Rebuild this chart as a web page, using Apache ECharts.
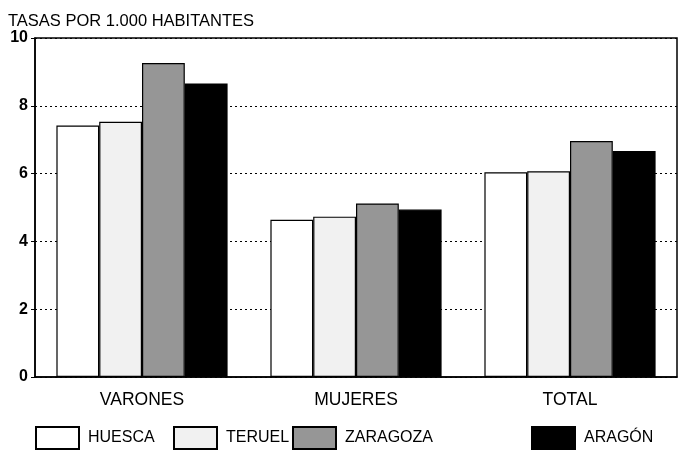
<!DOCTYPE html>
<html>
<head>
<meta charset="utf-8">
<script src="https://cdn.jsdelivr.net/npm/echarts@6/dist/echarts.min.js"></script>
<style>html,body{margin:0;padding:0;background:#fff;}#c{width:682px;height:452px;}</style>
</head>
<body>
<div id="c"></div>
<script>
const categories = ['VARONES', 'MUJERES', 'TOTAL'];
const seriesNames = ['HUESCA', 'TERUEL', 'ZARAGOZA', 'ARAGÓN'];
const huesca = [7.42, 4.64, 6.04];
const teruel = [7.53, 4.73, 6.07];
const zaragoza = [9.26, 5.12, 6.96];
const aragon = [8.66, 4.94, 6.67];
const yTicks = [0, 2, 4, 6, 8, 10];

const fills = ['#ffffff', '#f1f1f1', '#969696', '#000000'];
const values = [huesca, teruel, zaragoza, aragon];
const legendLefts = [35, 173, 292, 531];
const font = 'Liberation Sans, Arial, sans-serif';

const chart = echarts.init(document.getElementById('c'), null, {renderer: 'canvas'});
chart.setOption({
  animation: false,
  backgroundColor: '#fff',
  title: {
    text: 'TASAS POR 1.000 HABITANTES',
    left: 3, top: 8,
    textStyle: {fontFamily: font, fontSize: 16.5, fontWeight: 'normal', color: '#000'}
  },
  grid: {left: 35, right: 5, top: 38, bottom: 75, show: true, borderColor: '#000', borderWidth: 1.5, backgroundColor: 'transparent'},
  legend: seriesNames.map((n, i) => ({
    data: [n], left: legendLefts[i], top: 426, padding: 0,
    icon: 'rect', itemWidth: 43, itemHeight: 22,
    selectedMode: false,
    textStyle: {fontFamily: font, fontSize: 16, color: '#000', padding: [0, 0, 0, 4]}
  })),
  xAxis: {
    type: 'category', data: categories,
    axisLine: {lineStyle: {color: '#000', width: 1.5}},
    axisTick: {show: false},
    axisLabel: {fontFamily: font, fontSize: 17.5, color: '#000', margin: 14}
  },
  yAxis: {
    type: 'value', min: 0, max: 10, interval: 2,
    axisLine: {show: true, lineStyle: {color: '#000', width: 1.5}},
    axisTick: {show: true, length: 4, lineStyle: {color: '#000'}},
    axisLabel: {fontFamily: font, fontSize: 16, fontWeight: 'bold', color: '#000', margin: 7,
      formatter: v => yTicks.includes(v) ? String(v) : ''},
    splitLine: {show: true, lineStyle: {color: '#000', type: [2, 3], width: 1}}
  },
  series: seriesNames.map((n, i) => ({
    name: n, type: 'bar', data: values[i],
    barGap: '0%', barCategoryGap: '20%',
    itemStyle: {color: fills[i], borderColor: '#000', borderWidth: 1.2}
  }))
});
</script>
</body>
</html>
